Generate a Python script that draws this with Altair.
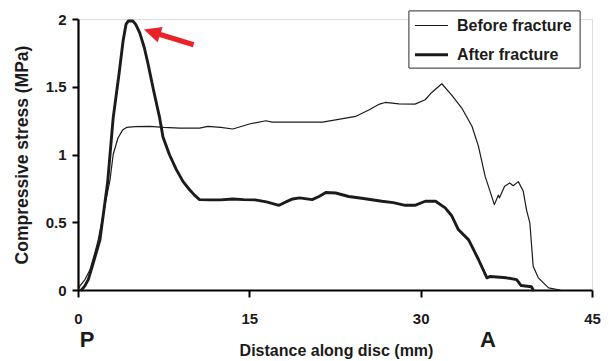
import altair as alt
import pandas as pd

# ---- data -------------------------------------------------------------------
series_names = ["Before fracture", "After fracture"]

before_x = [0.0, 0.17, 0.61, 1.05, 1.48, 1.77, 2.3, 2.8, 3.08, 3.49, 3.9, 4.25, 5.0,
            6.28, 7.5, 8.9, 10.64, 11.37, 12.5, 13.55, 15.0, 16.45, 17.0, 19.36,
            21.4, 22.56, 24.3, 25.5, 26.4, 26.9, 28.1, 29.5, 30.4, 30.97, 31.85,
            32.7, 33.6, 34.5, 35.06, 35.64, 36.07, 36.45, 36.8, 36.9, 37.35, 37.8,
            38.1, 38.55, 38.98, 39.27, 39.56, 39.85, 40.3, 41.2, 42.2]
before_y = [0.0, 0.03, 0.077, 0.15, 0.276, 0.37, 0.6, 0.81, 1.0, 1.12, 1.18, 1.2, 1.205,
            1.207, 1.2, 1.195, 1.195, 1.207, 1.2, 1.188, 1.225, 1.249, 1.239, 1.239,
            1.239, 1.256, 1.281, 1.33, 1.372, 1.384, 1.374, 1.372, 1.404, 1.458, 1.522,
            1.44, 1.343, 1.207, 1.06, 0.84, 0.73, 0.63, 0.70, 0.68, 0.765, 0.79,
            0.77, 0.80, 0.73, 0.59, 0.495, 0.175, 0.09, 0.016, 0.0]

after_x = [0.3, 0.6, 0.9, 1.34, 1.92, 2.6, 3.08, 3.6, 3.95, 4.2, 4.4, 4.8, 5.05, 5.4,
           5.8, 6.13, 6.6, 7.15, 7.44, 8.0, 8.6, 9.2, 9.77, 10.2, 10.64, 11.5, 12.5,
           13.55, 14.5, 15.5, 16.5, 17.6, 18.2, 18.8, 19.4, 20.5, 21.1, 21.7, 22.56,
           23.7, 25.0, 26.6, 27.6, 28.65, 29.5, 30.4, 31.3, 32.15, 32.7, 33.3, 34.2,
           34.5, 35.06, 35.8, 36.1, 37.5, 38.4, 38.8, 39.7, 39.85]
after_y = [0.0, 0.03, 0.077, 0.2, 0.37, 0.80, 1.27, 1.6, 1.84, 1.96, 1.985, 1.985, 1.96,
           1.9, 1.79, 1.67, 1.48, 1.27, 1.13, 1.0, 0.89, 0.80, 0.74, 0.70, 0.667, 0.665,
           0.665, 0.672, 0.667, 0.665, 0.65, 0.625, 0.65, 0.672, 0.68, 0.667, 0.69,
           0.72, 0.716, 0.69, 0.675, 0.655, 0.645, 0.625, 0.625, 0.655, 0.655, 0.606,
           0.55, 0.446, 0.37, 0.32, 0.225, 0.09, 0.1, 0.09, 0.077, 0.033, 0.024, 0.0]

x_ticks = [0, 15, 30, 45]
y_ticks = [0, 0.5, 1, 1.5, 2]

end_labels = ["P", "A"]
end_label_x = [0.8, 35.9]

arrow_x = [10.12, 6.48]
arrow_y = [1.81, 1.904]

# ---- tables -----------------------------------------------------------------
rows = []
for name, xs, ys in [(series_names[0], before_x, before_y),
                     (series_names[1], after_x, after_y)]:
    for i, (xv, yv) in enumerate(zip(xs, ys)):
        rows.append({"series": name, "x": xv, "y": yv, "order": i})
df = pd.DataFrame(rows)

ends = pd.DataFrame({"label": end_labels, "x": end_label_x})
arrow = pd.DataFrame({"x": arrow_x, "y": arrow_y, "part": ["tail", "head"]})
legend_df = pd.DataFrame({"series": series_names, "idx": list(range(len(series_names)))})

REG = "Liberation Sans, Arial, Helvetica, sans-serif"
INK = "#1b1b1b"

xscale = alt.Scale(domain=[0, 45], nice=False, zero=False)
yscale = alt.Scale(domain=[0, 2], nice=False, zero=False)
wscale = alt.Scale(domain=series_names, range=[1.2, 2.9])

x_axis = alt.Axis(values=x_ticks, title="Distance along disc (mm)", grid=False,
                  domainColor="black", domainWidth=2.2, tickColor="black",
                  tickWidth=2, tickSize=7, labelFont=REG, labelFontSize=15,
                  labelFontWeight="bold", labelColor=INK, labelBaseline="alphabetic",
                  labelPadding=26, labelFlush=False, labelOverlap=False,
                  titleFont=REG, titleFontSize=16, titleFontWeight="bold",
                  titleColor=INK, titleBaseline="alphabetic", titleY=65, titleX=258,
                  titleAlign="center")
y_axis = alt.Axis(values=y_ticks, format="~g", title="Compressive stress (MPa)",
                  grid=False, domainColor="black", domainWidth=2.2, tickColor="black",
                  tickWidth=2, tickSize=6, labelFont=REG, labelFontSize=15,
                  labelFontWeight="bold", labelColor=INK, labelPadding=6,
                  labelBaseline="middle", labelOverlap=False,
                  titleFont=REG, titleFontSize=17.5, titleFontWeight="bold",
                  titleColor=INK, titleBaseline="alphabetic", titleX=-51,
                  titleY=135.5, titleAlign="center", titleAngle=270)

lines = alt.Chart(df).mark_line(color=INK, strokeJoin="round", strokeCap="round").encode(
    x=alt.X("x:Q", scale=xscale, axis=x_axis),
    y=alt.Y("y:Q", scale=yscale, axis=y_axis),
    strokeWidth=alt.StrokeWidth("series:N", scale=wscale, legend=None),
    order="order:Q",
)

# ---- legend (drawn as marks, pixel layout) ----------------------------------
legend_box = alt.Chart(legend_df).mark_rect(
    fill="white", stroke="#555", strokeWidth=1).encode(
    x=alt.value(331), x2=alt.value(502), y=alt.value(-8), y2=alt.value(49))

leg_base = alt.Chart(legend_df).transform_calculate(ly="6.5 + datum.idx * 29.3")
legend_sym = leg_base.mark_rule(color=INK).encode(
    x=alt.value(337), x2=alt.value(370),
    y=alt.Y("ly:Q", scale=None, axis=None),
    strokeWidth=alt.StrokeWidth("series:N", scale=wscale, legend=None),
)
legend_txt = leg_base.mark_text(font=REG, fontSize=16, fontWeight="bold", color=INK,
                                align="left", baseline="middle").encode(
    x=alt.value(379),
    y=alt.Y("ly:Q", scale=None, axis=None),
    text="series:N",
)

end_text = alt.Chart(ends).mark_text(font=REG, fontSize=22, fontWeight="bold",
                                     color=INK, baseline="alphabetic",
                                     align="center").encode(
    x=alt.X("x:Q", scale=xscale),
    y=alt.value(328),
    text="label:N",
)

shaft = alt.Chart(arrow).mark_line(color="#ec2027", strokeWidth=5).encode(
    x=alt.X("x:Q", scale=xscale),
    y=alt.Y("y:Q", scale=yscale),
)
head = alt.Chart(arrow[arrow["part"] == "head"]).mark_point(
    shape="M-1,0L1,-0.95L1,0.95Z", size=289, filled=True, color="#ec2027",
    opacity=1, angle=18).encode(
    x=alt.X("x:Q", scale=xscale),
    y=alt.Y("y:Q", scale=yscale),
)

chart = alt.layer(lines, shaft, head, end_text, legend_box, legend_sym,
                  legend_txt).resolve_scale(y="shared").properties(
    width=514, height=271,
    autosize=alt.AutoSizeParams(type="none"),
    padding={"left": 70, "top": 11, "right": 9, "bottom": 70},
).configure_view(stroke=None).configure(background="white")

chart.save("out.html", embed_options={"renderer": "svg", "actions": False})
